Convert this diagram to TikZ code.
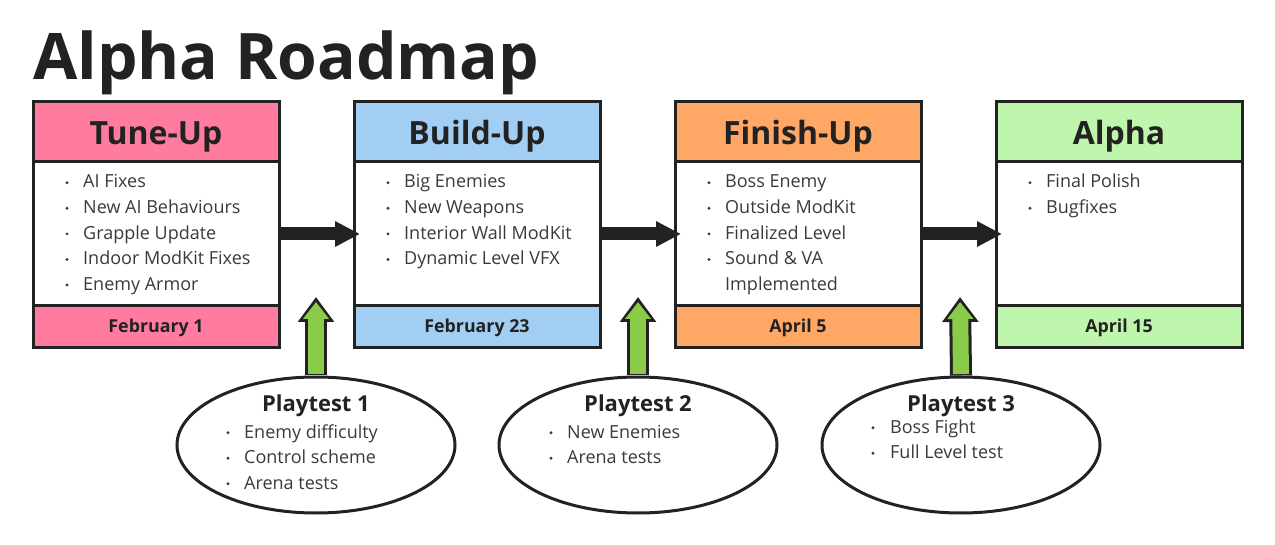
\documentclass[tikz,border=0pt]{standalone}
\usepackage{fontspec}
\setmainfont{Open Sans}
\usepackage{xcolor}
\usetikzlibrary{arrows.meta,positioning,shapes.geometric}

\definecolor{ink}{HTML}{222222}
\definecolor{txt}{HTML}{3A3A3A}
\definecolor{tunepink}{HTML}{FF7BA0}
\definecolor{buildblue}{HTML}{A3CEF4}
\definecolor{finishorange}{HTML}{FFA764}
\definecolor{alphagreen}{HTML}{BFF5AD}
\definecolor{testgreen}{HTML}{8ACC4A}

\tikzset{
  head/.style={draw=ink, line width=3pt, outer sep=0pt, minimum width=246pt,
    minimum height=60pt, text=ink, text height=25pt, text depth=0pt,
    font=\fontsize{32}{36}\selectfont\bfseries},
  body/.style={draw=ink, line width=3pt, outer sep=0pt, fill=white,
    minimum width=246pt, minimum height=144pt},
  foot/.style={draw=ink, line width=3pt, outer sep=0pt, minimum width=246pt,
    minimum height=42pt, text=ink, text height=12pt, text depth=0pt,
    font=\fontsize{17.8}{20}\selectfont\bfseries},
  item/.style={anchor=base west, inner sep=0pt, text=txt,
    font=\fontsize{18}{21}\selectfont},
  playtest/.style={draw=ink, line width=3pt, fill=white, ellipse,
    minimum width=278pt, minimum height=136pt},
  ptitle/.style={anchor=base, inner sep=0pt, text=ink,
    font=\fontsize{22}{26}\selectfont\bfseries},
  flow/.style={line width=13pt, draw=ink, -{Triangle[length=25pt,width=24pt]},
    shorten >=-6pt},
}

\begin{document}
\begin{tikzpicture}[x=1pt, y=-1pt]
    \useasboundingbox (0,0) rectangle (1275,545);

    % Title
    \node[anchor=base west, inner sep=0pt, text=ink,
      font=\fontsize{64.2}{70}\selectfont\bfseries] (title) at (33,80) {Alpha Roadmap};

    % The four stages
    \node[head, fill=tunepink] (h1) at (156,132) {Tune-Up};
    \node[body, below=0pt of h1] (b1) {};
    \node[foot, fill=tunepink, below=0pt of b1] (f1) {February 1};

    \node[head, fill=buildblue] (h2) at (477,132) {Build-Up};
    \node[body, below=0pt of h2] (b2) {};
    \node[foot, fill=buildblue, below=0pt of b2] (f2) {February 23};

    \node[head, fill=finishorange] (h3) at (798,132) {Finish-Up};
    \node[body, below=0pt of h3] (b3) {};
    \node[foot, fill=finishorange, below=0pt of b3] (f3) {April 5};

    \node[head, fill=alphagreen] (h4) at (1119,132) {Alpha};
    \node[body, below=0pt of h4] (b4) {};
    \node[foot, fill=alphagreen, below=0pt of b4] (f4) {April 15};

    % Bullet lists in the stages
    \foreach \t [count=\k] in {AI Fixes, New AI Behaviours, Grapple Update,
        Indoor ModKit Fixes, Enemy Armor} {
      \fill[txt] (67,182.7+25.6*\k-25.6) circle (1.6pt);
      \node[item] (ia\k) at (83,188+25.6*\k-25.6) {\t};
    }
    \foreach \t [count=\k] in {Big Enemies, New Weapons, Interior Wall ModKit,
        Dynamic Level VFX} {
      \fill[txt] (388,182.7+25.6*\k-25.6) circle (1.6pt);
      \node[item] (ib\k) at (404,188+25.6*\k-25.6) {\t};
    }
    \foreach \t [count=\k] in {Boss Enemy, Outside ModKit, Finalized Level,
        Sound \& VA} {
      \fill[txt] (709,182.7+25.6*\k-25.6) circle (1.6pt);
      \node[item] (ic\k) at (725,188+25.6*\k-25.6) {\t};
    }
    \node[item] (ic5) at (725,290.4) {Implemented};
    \foreach \t [count=\k] in {Final Polish, Bugfixes} {
      \fill[txt] (1030,182.7+25.6*\k-25.6) circle (1.6pt);
      \node[item] (id\k) at (1046,188+25.6*\k-25.6) {\t};
    }

    % Flow between stages
    \draw[flow] (b1.east) -- (b2.west);
    \draw[flow] (b2.east) -- (b3.west);
    \draw[flow] (b3.east) -- (b4.west);

    % Playtests
    \node[playtest] (p1) at (316,445) {};
    \node[playtest] (p2) at (638,445) {};
    \node[playtest] (p3) at (961,445) {};

    \node[ptitle] (pt1) at (316,411) {Playtest 1};
    \foreach \t [count=\k] in {Enemy difficulty, Control scheme, Arena tests} {
      \fill[txt] (228,432.7+25.5*\k-25.5) circle (1.6pt);
      \node[item] (ja\k) at (244,438+25.5*\k-25.5) {\t};
    }
    \node[ptitle] (pt2) at (638,411) {Playtest 2};
    \foreach \t [count=\k] in {New Enemies, Arena tests} {
      \fill[txt] (551,432.7+25.5*\k-25.5) circle (1.6pt);
      \node[item] (jb\k) at (567,438+25.5*\k-25.5) {\t};
    }
    \node[ptitle] (pt3) at (961,411) {Playtest 3};
    \foreach \t [count=\k] in {Boss Fight, Full Level test} {
      \fill[txt] (873,427.7+25.5*\k-25.5) circle (1.6pt);
      \node[item] (jc\k) at (890,433+25.5*\k-25.5) {\t};
    }

    % Playtests feed the flow
    \foreach \x/\n in {316/1, 638/2, 960/3} {
      \coordinate (up\n) at (\x,297);
      \draw[line width=22pt, ink, -{Triangle[length=25pt,width=35pt]}]
        (p\n.north) -- (up\n);
      \draw[line width=16pt, testgreen, -{Triangle[length=17pt,width=25pt]},
        shorten <=1.5pt, shorten >=5pt] (p\n.north) -- (up\n);
    }

\end{tikzpicture}
\end{document}
